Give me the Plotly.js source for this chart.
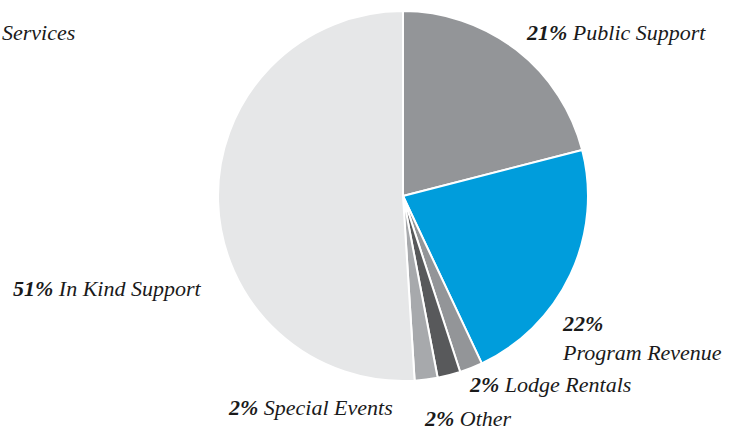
<!DOCTYPE html>
<html>
<head>
<meta charset="utf-8">
<script src="https://cdn.plot.ly/plotly-3.0.1.min.js"></script>
<style>html,body{margin:0;padding:0;background:#fff;}#chart{width:729px;height:430px;}</style>
</head>
<body>
<div id="chart"></div>
<script>
const labels = ["Public Support", "Program Revenue", "Lodge Rentals", "Other", "Special Events", "In Kind Support"];
const values = [21, 22, 2, 2, 2, 51];
const colors = ["#939598", "#009ddc", "#939598", "#58595b", "#a7a9ac", "#e6e7e8"];
const offLabel = "Services";

const W = 729, H = 430;
// label anchor positions in pixels (left x, middle y)
const labelPos = [
  [524, 32], [560, 338], [467, 384], [422, 418], [226, 407], [11, 288]
];
const FONT = {family: 'Liberation Serif, serif', size: 22, color: '#1a1a1a', style: 'italic'};

const annotations = labels.map((l, i) => {
  const txt = i === 1
    ? `<b>${values[i]}%</b><br>${l}`
    : `<b>${values[i]}%</b> ${l}`;
  return {
    text: txt, xref: 'paper', yref: 'paper',
    x: labelPos[i][0] / W, y: 1 - labelPos[i][1] / H,
    xanchor: 'left', yanchor: 'middle', align: 'left', showarrow: false,
    font: FONT
  };
});
annotations.push({
  text: offLabel, xref: 'paper', yref: 'paper',
  x: 0, y: 1 - 32 / H, xanchor: 'left', yanchor: 'middle', showarrow: false,
  font: FONT
});

const cx = 403, cy = 196, r = 185;
Plotly.newPlot('chart', [{
  type: 'pie', labels: labels, values: values, sort: false, direction: 'clockwise', rotation: 0,
  marker: {colors: colors, line: {color: '#ffffff', width: 2}},
  textinfo: 'none', hoverinfo: 'none', showlegend: false,
  domain: {x: [(cx - r) / W, (cx + r) / W], y: [(H - cy - r) / H, (H - cy + r) / H]}
}], {
  width: W, height: H, margin: {l: 0, r: 0, t: 0, b: 0},
  paper_bgcolor: '#ffffff', plot_bgcolor: '#ffffff',
  annotations: annotations, showlegend: false
}, {displayModeBar: false, staticPlot: true});
</script>
</body>
</html>
